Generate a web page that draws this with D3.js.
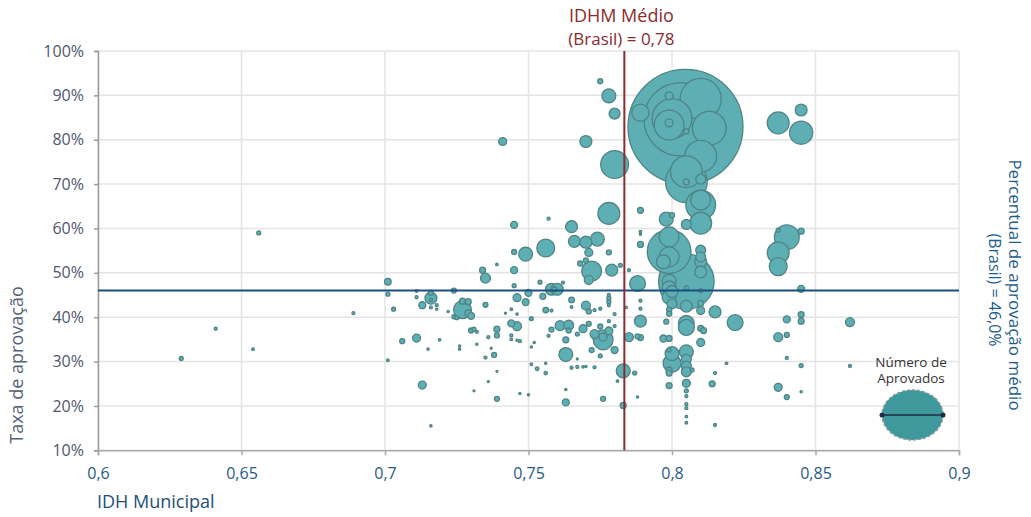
<!DOCTYPE html>
<html><head><meta charset="utf-8">
<script src="https://cdn.jsdelivr.net/npm/d3@7"></script>
<style>
html,body{margin:0;padding:0;background:#fff;}
svg{display:block;font-family:"Open Sans",sans-serif;}
</style></head>
<body>
<svg id="chart" width="1031" height="517"></svg>
<script>
// ---- data ----
const xTicks = [0.6, 0.65, 0.7, 0.75, 0.8, 0.85, 0.9];
const xTickLabels = ["0,6", "0,65", "0,7", "0,75", "0,8", "0,85", "0,9"];
const yTicks = [10, 20, 30, 40, 50, 60, 70, 80, 90, 100];
const yTickLabels = ["10%", "20%", "30%", "40%", "50%", "60%", "70%", "80%", "90%", "100%"];
const idhmBrasil = 0.7834;
const taxaBrasil = 46.0;

const idh = [
0.629,0.641,0.654,0.656,0.689,0.701,0.701,0.701,0.703,0.706,
0.711,0.711,0.711,0.713,0.713,0.716,0.716,0.716,0.716,0.715,
0.716,0.718,0.718,0.719,0.722,0.724,0.724,0.725,0.727,0.727,
0.729,0.729,0.730,0.726,0.726,0.730,0.731,0.732,0.732,0.731,
0.735,0.734,0.735,0.736,0.735,0.736,0.737,0.738,0.739,0.739,
0.739,0.739,0.739,0.742,0.744,0.744,0.744,0.744,0.745,0.745,
0.746,0.746,0.745,0.741,0.745,0.746,0.746,0.757,0.765,0.766,
0.768,0.756,0.749,0.750,0.754,0.758,0.760,0.759,0.762,0.749,
0.755,0.765,0.765,0.756,0.758,0.751,0.747,0.752,0.751,0.751,
0.753,0.756,0.756,0.750,0.747,0.757,0.758,0.761,0.764,0.764,
0.763,0.763,0.765,0.767,0.767,0.763,0.763,0.775,0.778,0.780,
0.770,0.780,0.778,0.789,0.8047,0.789,0.799,0.810,0.800,0.799,
0.803,0.813,0.799,0.805,0.810,0.805,0.805,0.805,0.810,0.810,
0.810,0.798,0.800,0.805,0.810,0.799,0.799,0.799,0.797,0.810,
0.810,0.810,0.810,0.805,0.799,0.799,0.800,0.799,0.805,0.810,
0.800,0.799,0.799,0.805,0.810,0.810,0.815,0.822,0.789,0.798,
0.805,0.805,0.810,0.811,0.797,0.799,0.810,0.799,0.800,0.800,
0.799,0.799,0.799,0.805,0.805,0.805,0.805,0.805,0.805,0.805,
0.805,0.805,0.805,0.805,0.807,0.815,0.814,0.815,0.819,0.770,
0.774,0.771,0.778,0.770,0.772,0.771,0.779,0.782,0.785,0.788,
0.789,0.789,0.789,0.778,0.778,0.778,0.778,0.770,0.771,0.773,
0.775,0.780,0.784,0.789,0.789,0.769,0.771,0.773,0.775,0.776,
0.778,0.778,0.780,0.780,0.775,0.772,0.776,0.769,0.770,0.773,
0.767,0.776,0.781,0.783,0.783,0.787,0.788,0.785,0.789,0.788,
0.837,0.845,0.845,0.840,0.837,0.837,0.837,0.845,0.845,0.845,
0.845,0.840,0.840,0.837,0.840,0.845,0.862,0.862,0.837,0.840,
0.845
];
const taxa = [
30.7,37.4,32.8,59.0,40.9,48.0,45.2,30.3,41.8,34.6,
35.3,45.9,44.5,24.7,42.7,44.3,45.5,43.9,42.2,32.8,
15.5,42.7,41.8,34.9,41.3,46.0,40.1,39.9,41.7,43.6,
43.5,40.9,40.3,33.5,32.8,37.0,37.3,36.7,33.9,23.4,
48.8,50.6,42.8,35.5,30.9,25.5,33.0,31.5,37.3,35.9,
21.6,27.8,51.9,40.9,38.6,35.9,35.0,41.8,47.1,50.6,
38.0,44.4,54.7,79.6,60.8,40.7,34.8,62.2,60.4,57.1,
52.1,55.6,54.2,45.5,47.9,46.3,46.3,46.3,47.8,43.4,
44.7,43.9,42.3,41.6,41.5,39.7,34.6,34.3,33.3,29.4,
28.4,29.6,27.4,22.5,22.8,35.8,37.2,38.1,38.2,37.0,
34.9,31.6,28.6,28.8,36.2,23.7,20.8,93.2,89.9,85.9,
79.6,74.4,63.4,64.1,82.9,86.1,89.9,89.2,84.8,83.3,
84.6,82.6,83.8,81.9,76.3,72.8,70.5,70.5,71.1,65.3,
66.4,62.1,63.0,60.9,61.2,54.8,58.1,53.6,52.5,55.1,
53.6,52.5,50.2,48.0,48.1,46.6,45.8,44.5,46.6,46.0,
43.0,41.7,40.8,42.5,43.1,41.5,41.2,38.8,39.1,39.0,
38.6,37.7,37.5,37.0,35.2,35.2,34.3,32.6,31.8,29.6,
28.1,27.4,24.6,32.2,30.5,29.0,27.7,25.1,23.4,22.2,
20.4,19.5,17.6,16.2,28.1,27.4,25.0,15.7,29.6,56.9,
57.6,54.6,54.6,52.8,50.4,48.4,50.6,51.7,50.6,47.6,
56.4,59.3,58.7,45.0,44.3,43.5,42.7,42.6,41.3,41.6,
41.9,40.7,42.2,43.7,41.9,37.4,38.5,36.2,37.9,34.9,
36.9,39.1,38.0,32.6,31.3,32.6,35.5,28.8,28.9,28.7,
30.6,21.6,25.6,27.9,20.1,27.4,22.0,35.5,35.4,35.7,
83.8,86.7,81.6,58.0,54.5,51.4,59.6,59.4,46.4,40.6,
39.1,39.5,36.0,35.5,30.8,29.1,38.9,29.0,24.2,22.0,
23.2
];
const aprovados = [
12,7,5,12,7,33,12,5,12,19,
48,5,7,48,37,108,19,7,7,4,
4,7,4,5,4,19,12,12,243,27,
27,37,37,4,4,19,12,7,4,3,
75,27,19,7,7,3,3,19,27,19,
19,3,5,3,37,7,5,5,12,37,
61,48,19,48,37,4,4,7,108,108,
19,243,147,37,12,108,108,19,7,37,
27,24,5,24,7,12,7,4,4,5,
10,4,9,4,4,7,19,75,75,19,
27,147,7,7,12,4,37,19,147,91,
108,588,363,27,10092,227,48,1285,1200,675,
4107,867,48,19,768,768,1323,27,75,675,
300,147,19,75,363,1452,300,300,147,75,
75,108,108,2352,147,147,108,147,12,12,
75,19,19,108,27,48,108,192,108,19,
192,192,27,27,37,27,48,12,147,243,
27,27,27,147,75,75,75,48,12,7,
7,7,5,5,12,7,27,7,5,108,
147,48,19,19,300,61,108,12,7,192,
27,5,4,7,12,12,7,61,19,7,
7,7,5,7,7,48,19,61,19,300,
48,7,7,37,12,19,48,4,4,7,
3,19,5,147,27,12,4,61,27,19,
363,108,411,469,363,243,12,27,37,27,
27,37,19,61,7,12,61,7,48,19,
4
];

// ---- chart ----
const svg = d3.select("#chart");
const x = d3.scaleLinear().domain([0.6, 0.9]).range([98, 959]);
const y = d3.scaleLinear().domain([10, 100]).range([450.3, 51]);
const r = d3.scaleSqrt().domain([0, 10092]).range([0, 57.5]);

// grid
svg.append("g").selectAll("line").data(xTicks).join("line")
  .attr("x1", d => x(d)).attr("x2", d => x(d))
  .attr("y1", y(100)).attr("y2", y(10))
  .attr("stroke", "#e4e4e4").attr("stroke-width", 1.5);
svg.append("g").selectAll("line").data(yTicks).join("line")
  .attr("x1", x(0.6)).attr("x2", x(0.9))
  .attr("y1", d => y(d)).attr("y2", d => y(d))
  .attr("stroke", "#e4e4e4").attr("stroke-width", 1.5);

// axes
const yAxis = svg.append("g").attr("transform", `translate(${x(0.6)},0)`)
  .call(d3.axisLeft(y).tickValues(yTicks).tickFormat((d, i) => yTickLabels[i]).tickSize(4).tickPadding(10));
yAxis.select(".domain").attr("stroke", "#9c9c9c").attr("stroke-width", 1.5);
yAxis.selectAll(".tick line").attr("stroke", "#9c9c9c").attr("stroke-width", 1.5);
yAxis.selectAll(".tick text").attr("fill", "#4d5870").attr("font-size", 16).attr("font-family", "Open Sans");

const xAxis = svg.append("g").attr("transform", `translate(0,${y(10)})`)
  .call(d3.axisBottom(x).tickValues(xTicks).tickFormat((d, i) => xTickLabels[i]).tickSize(5).tickPadding(12));
xAxis.select(".domain").attr("stroke", "#a8a8a8").attr("stroke-width", 1.5);
xAxis.selectAll(".tick line").attr("stroke", "#a8a8a8").attr("stroke-width", 1.5);
xAxis.selectAll(".tick text").attr("fill", "#1f5a8a").attr("font-size", 16).attr("font-family", "Open Sans");

// bubbles
const pts = idh.map((v, i) => ({x: v, y: taxa[i], n: aprovados[i]}))
  .sort((a, b) => b.n - a.n);
svg.append("g").selectAll("circle").data(pts).join("circle")
  .attr("cx", d => x(d.x)).attr("cy", d => y(d.y)).attr("r", d => r(d.n))
  .attr("fill", "#5eafb4").attr("stroke", "#4f8486").attr("stroke-width", 1.3);

// reference lines
svg.append("line")
  .attr("x1", x(0.6)).attr("x2", x(0.9)).attr("y1", y(taxaBrasil)).attr("y2", y(taxaBrasil))
  .attr("stroke", "#1b4f7c").attr("stroke-width", 2);
svg.append("line")
  .attr("x1", x(idhmBrasil)).attr("x2", x(idhmBrasil)).attr("y1", y(100)).attr("y2", y(10))
  .attr("stroke", "#8c2a2e").attr("stroke-width", 2);

// titles
svg.append("text").attr("x", x(idhmBrasil) - 3).attr("y", 22).attr("text-anchor", "middle")
  .attr("fill", "#8c2a2e").attr("font-size", 18).text("IDHM Médio");
svg.append("text").attr("x", x(idhmBrasil) - 3).attr("y", 45).attr("text-anchor", "middle")
  .attr("fill", "#8c2a2e").attr("font-size", 17).text("(Brasil) = 0,78");

svg.append("text").attr("x", 97).attr("y", 508)
  .attr("fill", "#1b4f7c").attr("font-size", 18).text("IDH Municipal");

svg.append("text").attr("transform", "translate(23,365) rotate(-90)").attr("text-anchor", "middle")
  .attr("fill", "#56627a").attr("font-size", 18).text("Taxa de  aprovação");

svg.append("text").attr("transform", "translate(1009,285) rotate(90)").attr("text-anchor", "middle")
  .attr("fill", "#1c5c8e").attr("font-size", 17).text("Percentual de aprovação médio");
svg.append("text").attr("transform", "translate(989,290) rotate(90)").attr("text-anchor", "middle")
  .attr("fill", "#1c5c8e").attr("font-size", 16).text("(Brasil) = 46,0%");

// legend
const lg = svg.append("g");
lg.append("text").attr("x", 911).attr("y", 367).attr("text-anchor", "middle")
  .attr("fill", "#333").attr("font-size", 13.5).text("Número  de");
lg.append("text").attr("x", 911).attr("y", 383).attr("text-anchor", "middle")
  .attr("fill", "#333").attr("font-size", 13.5).text("Aprovados");
lg.append("ellipse").attr("cx", 912.5).attr("cy", 415).attr("rx", 30.5).attr("ry", 25)
  .attr("fill", "#3f989c").attr("stroke", "#7f9a9c").attr("stroke-width", 1.5).attr("stroke-dasharray", "3,2");
lg.append("line").attr("x1", 882).attr("x2", 943).attr("y1", 415).attr("y2", 415)
  .attr("stroke", "#1f2d45").attr("stroke-width", 1.5);
lg.selectAll("circle").data([882, 943]).join("circle")
  .attr("cx", d => d).attr("cy", 415).attr("r", 2.5).attr("fill", "#1f2d45");
</script>
</body></html>
